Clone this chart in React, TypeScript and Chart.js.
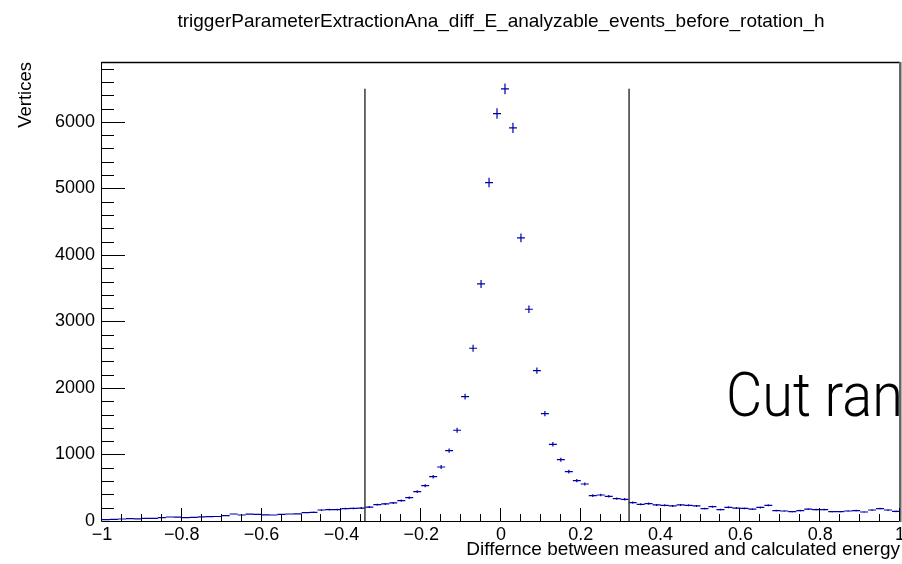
import React, { useEffect, useRef } from 'react';
import { Chart, registerables } from 'chart.js';

Chart.register(...registerables);

const TITLE = 'triggerParameterExtractionAna_diff_E_analyzable_events_before_rotation_h';
const X_TITLE = 'Differnce between measured and calculated energy';
const Y_TITLE = 'Vertices';
const CUT_LABEL = 'Cut range';

// histogram definition: 100 bins from -1 to 1
const binLow = -1;
const binWidth = 0.02;

// bin contents, bin centred at -0.99 ... 0.99
const counts = [
  22, 25, 30, 35, 33, 38, 40, 50, 60, 58,
  52, 55, 62, 65, 68, 80, 105, 90, 102, 100,
  92, 90, 100, 105, 108, 125, 130, 165, 170, 172,
  185, 190, 195, 210, 245, 256, 271, 305, 351, 441,
  531, 666, 812, 1057, 1364, 1869, 2597, 3564, 5088, 6125,
  6496, 5910, 4256, 3183, 2260, 1614, 1153, 922, 742, 606,
  556, 381, 391, 371, 336, 326, 276, 251, 261, 241,
  236, 226, 241, 236, 226, 185, 215, 170, 206, 195,
  190, 180, 204, 236, 155, 150, 140, 155, 180, 170,
  170, 140, 140, 150, 155, 135, 165, 185, 165, 145,
];

const binCenters = counts.map((_, i) => +(binLow + binWidth * (i + 0.5)).toFixed(2));

// cut lines
const cutLow = -0.341;
const cutHigh = 0.321;
const cutHeight = 6496;

// annotation anchor (data coordinates)
const cutLabelX = 0.564;
const cutLabelY = 1580;

const xTicks = [-1, -0.8, -0.6, -0.4, -0.2, 0, 0.2, 0.4, 0.6, 0.8, 1];
const yTicks = [0, 1000, 2000, 3000, 4000, 5000, 6000];
const xMinorStep = 0.05;
const yMinorStep = 200;
const xMin = -1;
const xMax = 1;
const yMin = 0;
const yMax = 6900;

const FONT = "'Liberation Sans', Arial, Helvetica, sans-serif";
const MARK = '#0000a8';

const fmt = (v: number) => {
  if (Math.abs(v) < 1e-9) return '0';
  const s = String(+Math.abs(v).toFixed(2));
  return (v < 0 ? '\u2212' : '') + s;
};

const rootPlugin = {
  id: 'rootPlugin',
  afterDatasetsDraw(chart: any) {
    const { ctx, chartArea } = chart;
    const xs = chart.scales.x;
    const ys = chart.scales.y;
    const { left, right, top, bottom } = chartArea;

    ctx.save();
    ctx.beginPath();
    ctx.rect(left, top, right - left, bottom - top);
    ctx.clip();

    // error-bar markers
    ctx.strokeStyle = MARK;
    ctx.lineWidth = 1.2;
    ctx.beginPath();
    const data = chart.data.datasets[0].data as { x: number; y: number }[];
    data.forEach((p) => {
      const err = Math.sqrt(p.y);
      const x0 = xs.getPixelForValue(p.x - binWidth / 2);
      const x1 = xs.getPixelForValue(p.x + binWidth / 2);
      const xc = xs.getPixelForValue(p.x);
      const yc = ys.getPixelForValue(p.y);
      const ya = ys.getPixelForValue(p.y + err);
      const yb = ys.getPixelForValue(p.y - err);
      ctx.moveTo(x0, yc);
      ctx.lineTo(x1, yc);
      if (yb - ya > 1.5) {
        ctx.moveTo(xc, ya);
        ctx.lineTo(xc, yb);
      }
    });
    ctx.stroke();

    // cut lines
    ctx.strokeStyle = '#3a3a3a';
    ctx.lineWidth = 1.5;
    ctx.beginPath();
    [cutLow, cutHigh].forEach((c) => {
      const px = xs.getPixelForValue(c);
      ctx.moveTo(px, ys.getPixelForValue(0));
      ctx.lineTo(px, ys.getPixelForValue(cutHeight));
    });
    ctx.stroke();

    // annotation
    ctx.fillStyle = '#000';
    ctx.font = "300 61px Roboto, 'Liberation Sans', sans-serif";
    ctx.textAlign = 'left';
    ctx.textBaseline = 'alphabetic';
    ctx.translate(xs.getPixelForValue(cutLabelX), ys.getPixelForValue(cutLabelY));
    ctx.scale(0.915, 1);
    ctx.fillText(CUT_LABEL, 0, 0);
    ctx.restore();

    // frame
    ctx.save();
    ctx.strokeStyle = '#000';
    ctx.lineWidth = 1;
    ctx.beginPath();
    ctx.moveTo(left - 0.5, top);
    ctx.lineTo(left - 0.5, bottom + 0.5);
    ctx.lineTo(right, bottom + 0.5);
    ctx.stroke();
    ctx.lineWidth = 1.3;
    ctx.beginPath();
    ctx.moveTo(left - 0.5, top + 0.5);
    ctx.lineTo(right, top + 0.5);
    ctx.stroke();
    ctx.strokeStyle = '#666';
    ctx.lineWidth = 2.5;
    ctx.beginPath();
    ctx.moveTo(right + 0.25, top);
    ctx.lineTo(right + 0.25, bottom + 1);
    ctx.stroke();

    // ticks (inward)
    ctx.strokeStyle = '#000';
    ctx.lineWidth = 1;
    ctx.beginPath();
    for (let v = xMin, i = 0; v <= xMax + 1e-9; i++, v = xMin + i * xMinorStep) {
      const major = xTicks.some((t) => Math.abs(t - v) < 1e-9);
      const len = major ? 13 : 7;
      const px = Math.round(xs.getPixelForValue(v)) - 0.5;
      ctx.moveTo(px, bottom);
      ctx.lineTo(px, bottom - len);
    }
    for (let v = yMin, i = 0; v <= yMax + 1e-9; i++, v = yMin + i * yMinorStep) {
      const major = yTicks.some((t) => Math.abs(t - v) < 1e-9);
      const len = major ? 23 : 12;
      const py = Math.round(ys.getPixelForValue(v)) + 0.5;
      ctx.moveTo(left, py);
      ctx.lineTo(left + len, py);
    }
    ctx.stroke();
    ctx.restore();
  },
};

export default function App() {
  const ref = useRef<HTMLCanvasElement>(null);

  useEffect(() => {
    document.body.style.margin = '0';
    const canvas = ref.current;
    if (!canvas) return;
    const chart = new Chart(canvas, {
      type: 'scatter',
      data: {
        datasets: [
          {
            data: binCenters.map((x, i) => ({ x, y: counts[i] })),
            pointRadius: 0,
            showLine: false,
            borderColor: MARK,
            backgroundColor: MARK,
          },
        ],
      },
      options: {
        responsive: false,
        animation: false,
        events: [],
        layout: { padding: { left: 0, right: 2, top: 0, bottom: 0 } },
        plugins: {
          legend: { display: false },
          tooltip: { enabled: false },
          title: {
            display: true,
            text: TITLE,
            fullSize: false,
            color: '#000',
            font: { family: FONT, size: 19, weight: 'normal' },
            padding: { top: 10, bottom: 29.2 },
          },
        },
        scales: {
          x: {
            type: 'linear',
            min: xMin,
            max: xMax,
            grid: { display: false, drawTicks: false },
            border: { display: false },
            afterBuildTicks: (scale: any) => {
              scale.ticks = xTicks.map((v) => ({ value: v }));
            },
            afterFit: (scale: any) => {
              scale.height = 43;
              scale.paddingLeft = 0;
              scale.paddingRight = 0;
            },
            ticks: {
              autoSkip: false,
              maxRotation: 0,
              padding: 3,
              color: '#000',
              font: { family: FONT, size: 18 },
              callback: (v: any) => fmt(Number(v)),
            },
            title: {
              display: true,
              text: X_TITLE,
              align: 'end',
              color: '#000',
              font: { family: FONT, size: 19 },
              padding: { top: 0, bottom: 3 },
            },
          },
          y: {
            type: 'linear',
            min: yMin,
            max: yMax,
            grid: { display: false, drawTicks: false },
            border: { display: false },
            afterBuildTicks: (scale: any) => {
              scale.ticks = yTicks.map((v) => ({ value: v }));
            },
            afterFit: (scale: any) => {
              scale.width = 102;
              scale.paddingTop = 0;
              scale.paddingBottom = 0;
            },
            ticks: {
              padding: 7,
              color: '#000',
              font: { family: FONT, size: 18 },
              callback: (v: any) => fmt(Number(v)),
            },
            title: {
              display: true,
              text: Y_TITLE,
              align: 'end',
              color: '#000',
              font: { family: FONT, size: 18.5 },
              padding: { top: 15, bottom: 0 },
            },
          },
        },
      },
      plugins: [rootPlugin],
    } as any);
    return () => chart.destroy();
  }, []);

  return (
    <div style={{ position: 'absolute', left: 0, top: 0, width: 902, height: 564 }}>
      <canvas ref={ref} width={902} height={564} style={{ display: 'block', width: 902, height: 564 }} />
    </div>
  );
}
